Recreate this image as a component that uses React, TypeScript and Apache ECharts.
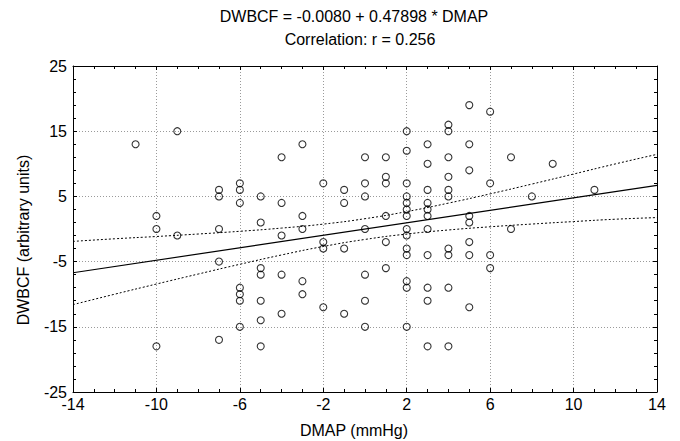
import React, { useEffect, useRef } from "react";
import * as echarts from "echarts";

const titleLine1 = "DWBCF = -0.0080 + 0.47898 * DMAP";
const titleLine2 = "Correlation: r = 0.256";
const xName = "DMAP (mmHg)";
const yName = "DWBCF (arbitrary units)";

// observed points [DMAP, DWBCF]
const points: [number, number][] = [
  [-11, 13],
  [-10, 2], [-10, 0], [-10, -18],
  [-9, 15], [-9, -1],
  [-7, 6], [-7, 5], [-7, 0], [-7, -5], [-7, -17],
  [-6, 7], [-6, 6], [-6, 4], [-6, -9], [-6, -10], [-6, -11], [-6, -15],
  [-5, 5], [-5, 1], [-5, -6], [-5, -7], [-5, -11], [-5, -14], [-5, -18],
  [-4, 11], [-4, 4], [-4, -1], [-4, -7], [-4, -13],
  [-3, 13], [-3, 2], [-3, 0], [-3, -8], [-3, -10],
  [-2, 7], [-2, -2], [-2, -3], [-2, -12],
  [-1, 6], [-1, 4], [-1, -3], [-1, -13],
  [0, 11], [0, 7], [0, 5], [0, 0], [0, -7], [0, -11], [0, -15],
  [1, 11], [1, 8], [1, 7], [1, 2], [1, -2], [1, -6],
  [2, 15], [2, 12], [2, 7], [2, 5], [2, 4], [2, 3], [2, 2], [2, 0], [2, -1], [2, -3], [2, -4], [2, -8], [2, -9], [2, -15],
  [3, 13], [3, 10], [3, 6], [3, 4], [3, 3], [3, 2], [3, 0], [3, -4], [3, -9], [3, -11], [3, -18],
  [4, 16], [4, 15], [4, 11], [4, 8], [4, 6], [4, 5], [4, -3], [4, -4], [4, -9], [4, -18],
  [5, 19], [5, 13], [5, 9], [5, 2], [5, 1], [5, -2], [5, -4], [5, -12],
  [6, 18], [6, 7], [6, -4], [6, -6],
  [7, 11], [7, 0],
  [8, 5],
  [9, 10],
  [11, 6],
];

// regression line endpoints
const fitLine: [number, number][] = [[-14, -6.71], [14, 6.7]];

// confidence band readings
const bandX = [-14, -12, -10, -8, -6, -4, -2, 0, 2, 4, 6, 8, 10, 12, 14];
const bandUpper = [-1.9, -1.5, -1.15, -0.77, -0.35, 0.14, 0.75, 1.58, 2.67, 3.97, 5.39, 6.89, 8.43, 9.98, 11.45];
const bandLower = [-11.6, -10.0, -8.44, -6.91, -5.41, -3.98, -2.68, -1.6, -0.77, -0.15, 0.34, 0.76, 1.14, 1.5, 1.75];

const xMin = -14, xMax = 14, xStep = 4;
const yMin = -25, yMax = 25, yStep = 10;

const FONT = "Liberation Sans, Arial, sans-serif";

export default function App() {
  const ref = useRef<HTMLDivElement>(null);
  useEffect(() => {
    if (!ref.current) return;
    const chart = echarts.init(ref.current, null, { renderer: "svg" });
    const gridLine = { show: true, lineStyle: { color: "#9a9a9a", type: [1, 2], width: 1 } };
    const tickIn = { show: true, inside: true, length: 4, lineStyle: { color: "#000" } };
    const minorIn = { show: true, length: 3, lineStyle: { color: "#000" } };
    const axisLine = { show: true, onZero: false, lineStyle: { color: "#000", width: 1 } };
    const label = { color: "#000", fontSize: 16, fontFamily: FONT };
    const textStyle = (text: string) => ({
      text, fontSize: 16, fontFamily: FONT, fill: "#000", textAlign: "center", textVerticalAlign: "middle",
    });
    chart.setOption({
      animation: false,
      backgroundColor: "#fff",
      textStyle: { fontFamily: FONT, color: "#000" },
      grid: { left: 73, right: 23, top: 66, bottom: 49, containLabel: false },
      graphic: [
        { type: "text", x: 354, y: 16, style: textStyle(titleLine1) },
        { type: "text", x: 360, y: 39, style: textStyle(titleLine2) },
        { type: "text", x: 354, y: 430, style: textStyle(xName) },
        { type: "text", x: 23, y: 240, rotation: Math.PI / 2, style: textStyle(yName) },
      ],
      xAxis: [
        {
          type: "value", min: xMin, max: xMax, interval: xStep, position: "bottom",
          axisLine, axisTick: tickIn, minorTick: { ...minorIn, splitNumber: 4 },
          axisLabel: { ...label, margin: 4 }, splitLine: gridLine,
        },
        {
          type: "value", min: xMin, max: xMax, interval: xStep, position: "top",
          axisLine, axisTick: tickIn, minorTick: { ...minorIn, splitNumber: 4 },
          axisLabel: { show: false }, splitLine: { show: false },
        },
      ],
      yAxis: [
        {
          type: "value", min: yMin, max: yMax, interval: yStep, position: "left",
          axisLine, axisTick: tickIn, minorTick: { ...minorIn, splitNumber: 5 },
          axisLabel: { ...label, margin: 6 }, splitLine: gridLine,
        },
        {
          type: "value", min: yMin, max: yMax, interval: yStep, position: "right",
          axisLine, axisTick: tickIn, minorTick: { ...minorIn, splitNumber: 5 },
          axisLabel: { show: false }, splitLine: { show: false },
        },
      ],
      series: [
        {
          type: "line", data: bandX.map((x, i) => [x, bandUpper[i]]), smooth: true,
          showSymbol: false, silent: true,
          lineStyle: { color: "#000", width: 1, type: [2, 2] },
        },
        {
          type: "line", data: bandX.map((x, i) => [x, bandLower[i]]), smooth: true,
          showSymbol: false, silent: true,
          lineStyle: { color: "#000", width: 1, type: [2, 2] },
        },
        {
          type: "line", data: fitLine, showSymbol: false, silent: true,
          lineStyle: { color: "#000", width: 1.2 },
        },
        {
          type: "scatter", data: points, symbol: "circle", symbolSize: 7,
          itemStyle: { color: "rgba(0,0,0,0)", borderColor: "#000", borderWidth: 1.1 },
        },
      ],
    });
    return () => chart.dispose();
  }, []);
  return <div ref={ref} style={{ position: "fixed", left: 0, top: 0, width: 680, height: 441 }} />;
}
